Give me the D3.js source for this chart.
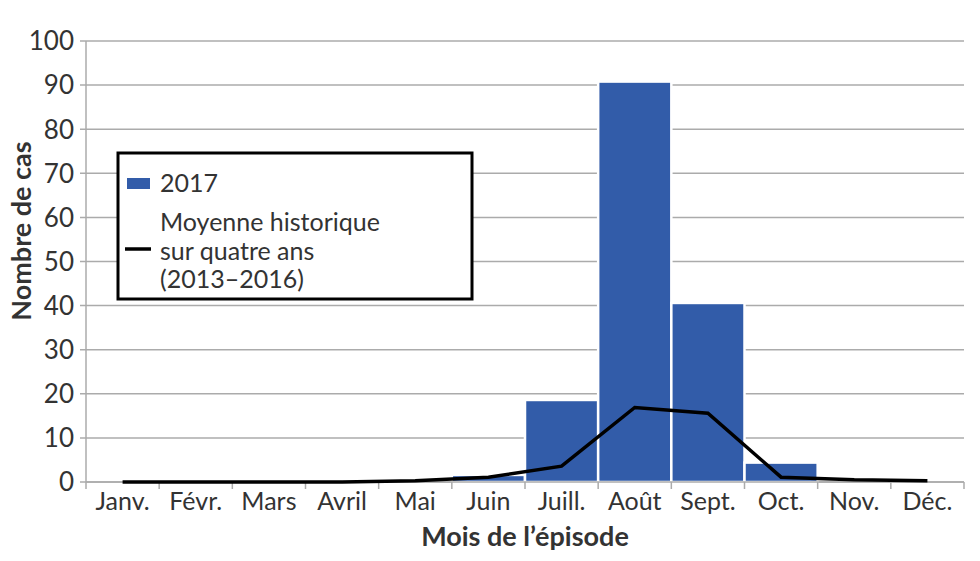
<!DOCTYPE html>
<html><head><meta charset="utf-8">
<script src="https://cdn.jsdelivr.net/npm/d3@7"></script>
<style>body{margin:0;background:#fff}svg{display:block}text{font-family:Lato,"Open Sans",sans-serif}</style>
</head><body>
<svg id="c" width="980" height="561"></svg>
<script>
const months = ["Janv.","Févr.","Mars","Avril","Mai","Juin","Juill.","Août","Sept.","Oct.","Nov.","Déc."];
const cases2017 = [0,0,0,0,0,1.6,18.6,90.8,40.6,4.4,0,0];
const histAvg = [0,0,0,0,0.3,1.1,3.6,16.9,15.6,1.1,0.5,0.3];
const yTicks = [0,10,20,30,40,50,60,70,80,90,100];
const legendLabels = ["2017", ["Moyenne historique","sur quatre ans","(2013–2016)"]];

const svg = d3.select("#c");
const m = {l:86, r:964, t:41, b:482};
const x = d3.scaleBand().domain(months).range([m.l, m.r]).paddingInner(0).paddingOuter(0);
const y = d3.scaleLinear().domain([0,100]).range([m.b, m.t]);

svg.append("g").selectAll("line").data(yTicks).join("line")
  .attr("x1", m.l-6).attr("x2", m.r).attr("y1", d=>y(d)).attr("y2", d=>y(d))
  .attr("stroke", "#ababab").attr("stroke-width", 1.5);
svg.append("line").attr("x1", m.l).attr("x2", m.l).attr("y1", m.t).attr("y2", m.b)
  .attr("stroke", "#ababab").attr("stroke-width", 1.5);

svg.append("g").selectAll("rect").data(months).join("rect")
  .attr("x", d=>x(d)).attr("width", x.bandwidth())
  .attr("y", (d,i)=>y(cases2017[i])).attr("height", (d,i)=>y(0)-y(cases2017[i]))
  .attr("fill", "#325ca9").attr("stroke", "#fff").attr("stroke-width", 2.5);

svg.append("line").attr("x1", m.l).attr("x2", m.r).attr("y1", y(0)).attr("y2", y(0))
  .attr("stroke", "#ababab").attr("stroke-width", 1.5);
const bounds = months.map(d=>x(d)).concat([m.r]);
svg.append("g").selectAll("line").data(bounds).join("line")
  .attr("x1", d=>d).attr("x2", d=>d).attr("y1", y(0)).attr("y2", y(0)+7)
  .attr("stroke", "#ababab").attr("stroke-width", 1.5);

const line = d3.line().x((d,i)=>x(months[i])+x.bandwidth()/2).y(d=>y(d));
svg.append("path").datum(histAvg).attr("d", line)
  .attr("fill","none").attr("stroke","#000").attr("stroke-width",3.5).attr("stroke-linejoin","miter");

svg.append("g").selectAll("text").data(yTicks).join("text")
  .attr("x", 74).attr("y", d=>y(d)).attr("dy","0.36em").attr("text-anchor","end")
  .attr("font-size", 26).attr("fill","#333").text(d=>d);

svg.append("g").selectAll("text").data(months).join("text")
  .attr("x", d=>x(d)+x.bandwidth()/2).attr("y", 510).attr("text-anchor","middle")
  .attr("font-size", 25).attr("fill","#333").text(d=>d);

svg.append("text").attr("x", 525).attr("y", 546).attr("text-anchor","middle")
  .attr("font-size", 27).attr("font-weight","bold").attr("fill","#333").text("Mois de l’épisode");
svg.append("text").attr("transform","translate(31,231) rotate(-90)").attr("text-anchor","middle")
  .attr("font-size", 27).attr("font-weight","bold").attr("fill","#333").text("Nombre de cas");

const lg = svg.append("g");
lg.append("rect").attr("x",118).attr("y",153).attr("width",354).attr("height",146)
  .attr("fill","#fff").attr("stroke","#000").attr("stroke-width",3);
lg.append("rect").attr("x",127).attr("y",178).attr("width",23).attr("height",11).attr("fill","#325ca9");
lg.append("text").attr("x",160).attr("y",192).attr("font-size",25).attr("fill","#333").text(legendLabels[0]);
lg.append("line").attr("x1",125).attr("x2",151).attr("y1",249).attr("y2",249).attr("stroke","#000").attr("stroke-width",3.5);
lg.append("g").selectAll("text").data(legendLabels[1]).join("text")
  .attr("x",160).attr("y",(d,i)=>231+i*28.5).attr("font-size",25).attr("fill","#333").text(d=>d);
</script>
</body></html>
